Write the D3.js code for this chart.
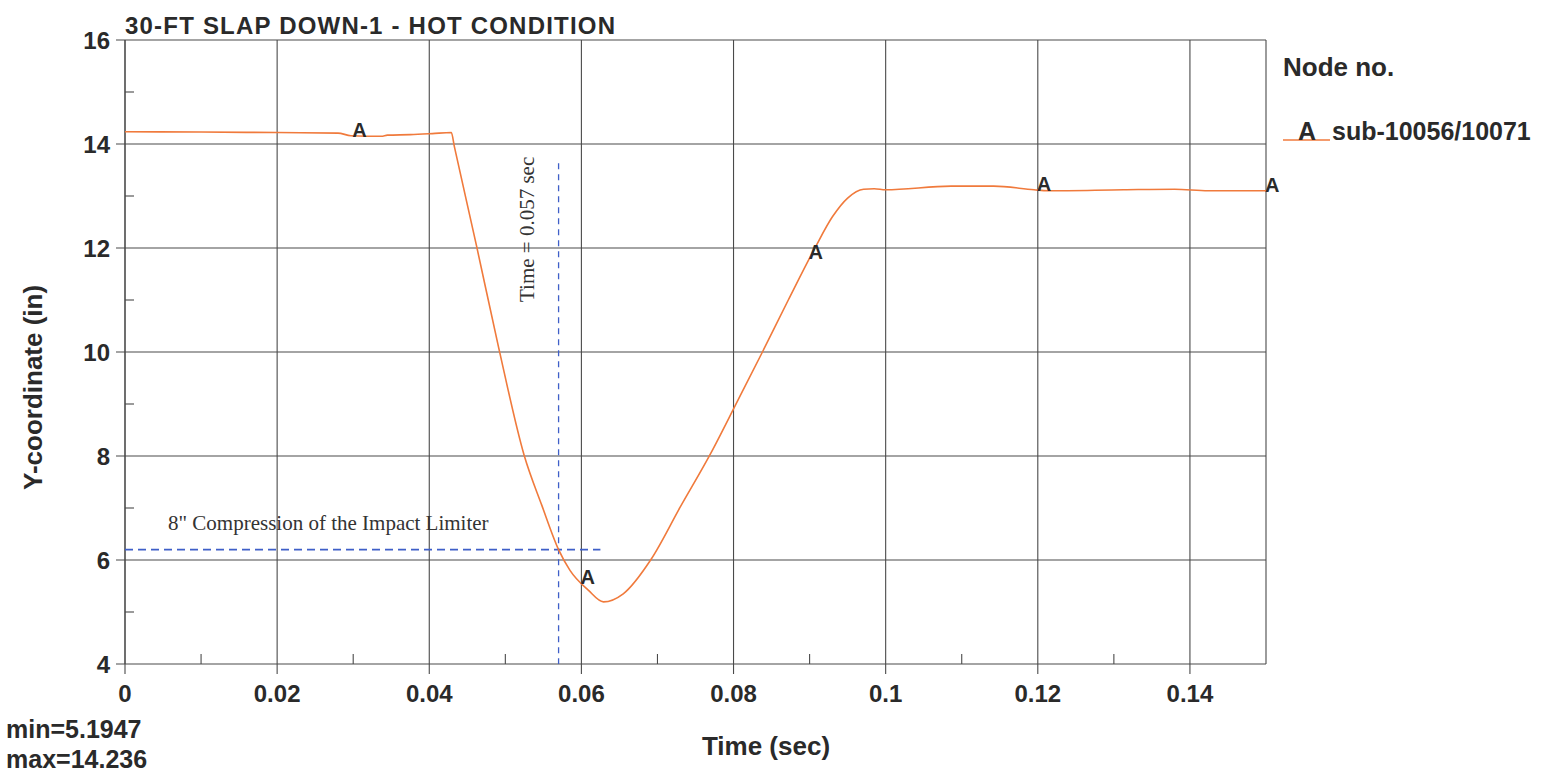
<!DOCTYPE html>
<html lang="en">
<head>
  <meta charset="UTF-8">
  <title>30-FT Slap Down-1 - Hot Condition</title>
  <style>
    body { margin: 0; background: #fff; }
    svg { display: block; }
    .bold { font-family: "Liberation Sans", Arial, sans-serif; font-weight: bold; fill: #2a2a2a; }
    .serif { font-family: "Liberation Serif", "Times New Roman", serif; fill: #333; }
    .grid line { stroke: #4a4a4a; stroke-width: 1.1; }
  </style>
</head>
<body>
<svg width="1541" height="774"></svg>

<script src="https://cdn.jsdelivr.net/npm/d3@7/dist/d3.min.js"></script>
<script>
  // time (sec) and Y-coordinate (in) of node sub-10056/10071
  const times = [0, 0.01, 0.02, 0.028, 0.0297, 0.0337, 0.0345, 0.0375, 0.0404, 0.0429,
    0.0433, 0.0462, 0.0491, 0.0525, 0.0548, 0.057, 0.0585, 0.0609, 0.0629, 0.0655,
    0.0691, 0.073, 0.077, 0.0805, 0.0838, 0.0872, 0.0907, 0.093, 0.095, 0.0971,
    0.0985, 0.1, 0.1086, 0.1142, 0.1195, 0.1213, 0.1313, 0.138, 0.1424, 0.15];
  const yCoord = [14.236, 14.23, 14.22, 14.21, 14.16, 14.15, 14.17, 14.18, 14.2, 14.22,
    13.95, 12.05, 10.1, 8.0, 7.05, 6.2, 5.8, 5.42, 5.1947, 5.35,
    6.0, 7.02, 8.05, 9.05, 10.0, 11.0, 12.0, 12.6, 12.96, 13.13,
    13.14, 13.12, 13.19, 13.19, 13.12, 13.1, 13.12, 13.13, 13.1, 13.1];
  const markerTimes = [0.03, 0.06, 0.09, 0.12, 0.15];

  const xTicks = [0, 0.02, 0.04, 0.06, 0.08, 0.1, 0.12, 0.14];
  const xMinor = [0.01, 0.03, 0.05, 0.07, 0.09, 0.11, 0.13];
  const yTicks = [4, 6, 8, 10, 12, 14, 16];
  const yMinor = [5, 7, 9, 11, 13, 15];

  const impactTime = 0.057;
  const compressionY = 6.2;

  const svg = d3.select("svg");
  const pl = 125, pr = 1266, pt = 40, pb = 664;

  const x = d3.scaleLinear().domain([0, 0.15]).range([pl, pr]);
  const y = d3.scaleLinear().domain([4, 16]).range([pb, pt]);

  // grid
  const grid = svg.append("g").attr("class", "grid");
  grid.selectAll(".gx").data(xTicks).enter().append("line")
    .attr("x1", d => x(d)).attr("x2", d => x(d))
    .attr("y1", pt).attr("y2", pb + 10);
  grid.selectAll(".gy").data(yTicks).enter().append("line")
    .attr("x1", pl - 9).attr("x2", pr)
    .attr("y1", d => y(d)).attr("y2", d => y(d));
  grid.append("line").attr("x1", pr).attr("x2", pr).attr("y1", pt).attr("y2", pb);
  grid.append("line").attr("x1", pl).attr("x2", pl).attr("y1", pt).attr("y2", pb);
  grid.selectAll(".mx").data(xMinor).enter().append("line")
    .attr("x1", d => x(d)).attr("x2", d => x(d))
    .attr("y1", pb).attr("y2", pb - 10);
  grid.selectAll(".my").data(yMinor).enter().append("line")
    .attr("x1", pl).attr("x2", pl + 9)
    .attr("y1", d => y(d)).attr("y2", d => y(d));

  // tick labels
  svg.selectAll(".xl").data(xTicks).enter().append("text")
    .attr("class", "bold")
    .attr("x", d => x(d)).attr("y", 702)
    .attr("text-anchor", "middle")
    .style("font-size", "24px")
    .text(d => d3.format("")(d));
  svg.selectAll(".yl").data(yTicks).enter().append("text")
    .attr("class", "bold")
    .attr("x", 110).attr("y", d => y(d) + 9)
    .attr("text-anchor", "end")
    .style("font-size", "24px")
    .text(d => d);

  // annotations
  const blue = "#3f5fc8";
  svg.append("line")
    .attr("x1", x(impactTime)).attr("x2", x(impactTime))
    .attr("y1", y(13.63)).attr("y2", pb)
    .attr("stroke", blue).attr("stroke-width", 1.3).attr("stroke-dasharray", "6,5");
  svg.append("line")
    .attr("x1", pl).attr("x2", x(0.0625))
    .attr("y1", y(compressionY)).attr("y2", y(compressionY))
    .attr("stroke", blue).attr("stroke-width", 1.6).attr("stroke-dasharray", "8,5");
  svg.append("text").attr("class", "serif")
    .attr("x", 168).attr("y", 530)
    .style("font-size", "21px")
    .text("8\" Compression of the Impact Limiter");
  svg.append("text").attr("class", "serif")
    .attr("transform", "translate(534,302) rotate(-90)")
    .style("font-size", "21px")
    .text("Time = 0.057 sec");

  // curve
  const line = d3.line().x(d => x(d[0])).y(d => y(d[1])).curve(d3.curveMonotoneX);
  const pts = d3.zip(times, yCoord);
  svg.append("path").datum(pts)
    .attr("d", line)
    .attr("fill", "none")
    .attr("stroke", "#f07a3c")
    .attr("stroke-width", 1.6);

  // markers along the curve
  const valueAt = t => {
    const i = Math.min(d3.bisectLeft(times, t), times.length - 1);
    if (i === 0) return yCoord[0];
    const f = (t - times[i - 1]) / (times[i] - times[i - 1]);
    return yCoord[i - 1] + f * (yCoord[i] - yCoord[i - 1]);
  };
  svg.selectAll(".mk").data(markerTimes).enter().append("text")
    .attr("class", "bold")
    .attr("x", d => x(d) - 1).attr("y", d => y(valueAt(d)) + 1)
    .style("font-size", "20px")
    .text("A");

  // titles and labels
  svg.append("text").attr("class", "bold")
    .attr("x", 125).attr("y", 34)
    .attr("textLength", 490)
    .style("font-size", "24px")
    .text("30-FT SLAP DOWN-1 - HOT CONDITION");
  svg.append("text").attr("class", "bold")
    .attr("transform", "translate(42,490) rotate(-90)")
    .style("font-size", "26px")
    .text("Y-coordinate (in)");
  svg.append("text").attr("class", "bold")
    .attr("x", 766).attr("y", 755)
    .attr("text-anchor", "middle")
    .style("font-size", "26px")
    .text("Time (sec)");
  svg.append("text").attr("class", "bold")
    .attr("x", 6).attr("y", 738)
    .style("font-size", "25px")
    .text("min=" + d3.min(yCoord));
  svg.append("text").attr("class", "bold")
    .attr("x", 6).attr("y", 768)
    .style("font-size", "25px")
    .text("max=" + d3.max(yCoord));

  // legend
  svg.append("text").attr("class", "bold")
    .attr("x", 1283).attr("y", 76)
    .style("font-size", "26px")
    .text("Node no.");
  svg.append("line")
    .attr("x1", 1283).attr("x2", 1330).attr("y1", 140).attr("y2", 140)
    .attr("stroke", "#f07a3c").attr("stroke-width", 1.6);
  svg.append("text").attr("class", "bold")
    .attr("x", 1298).attr("y", 140)
    .style("font-size", "25px")
    .text("A");
  svg.append("text").attr("class", "bold")
    .attr("x", 1332).attr("y", 140)
    .style("font-size", "25px")
    .text("sub-10056/10071");
</script>
</body>
</html>
